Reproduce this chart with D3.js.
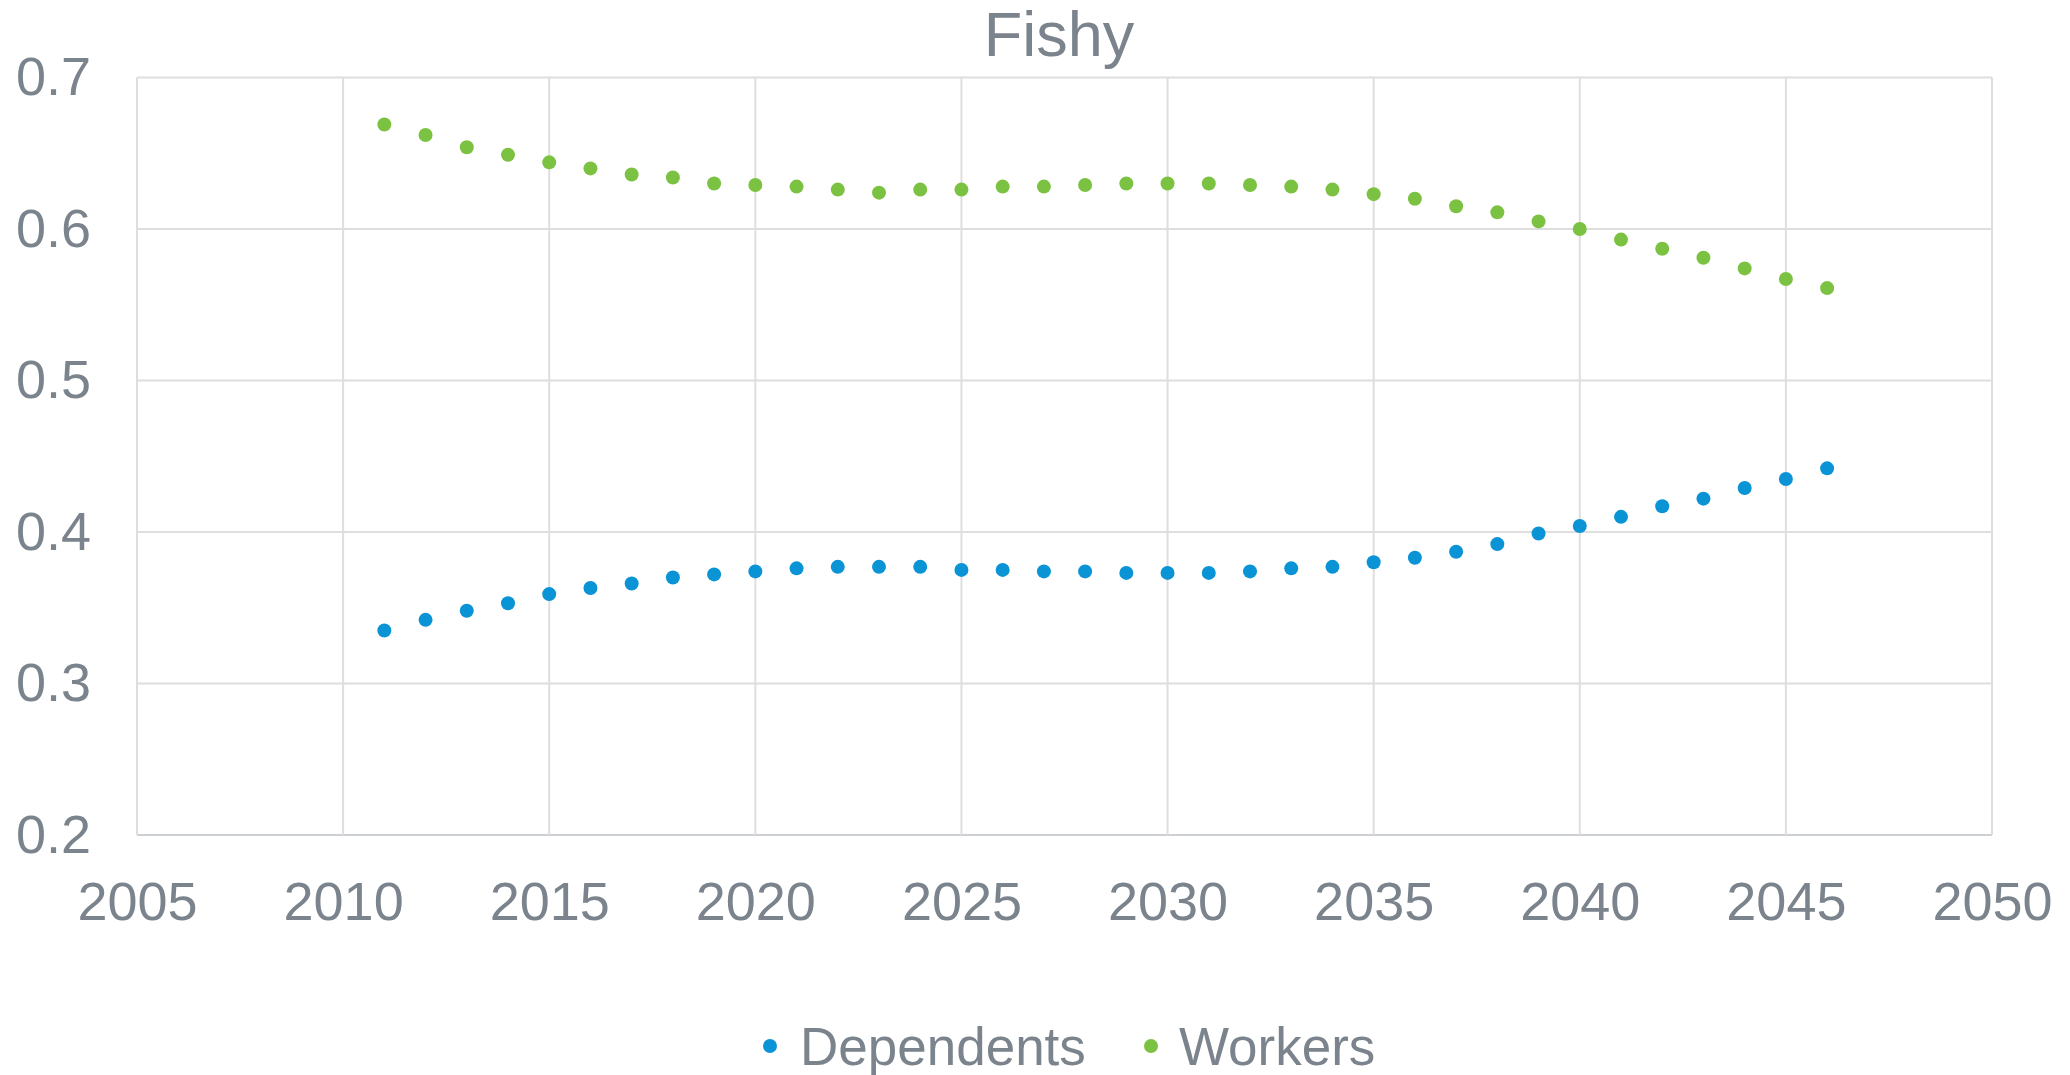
<!DOCTYPE html>
<html>
<head>
<meta charset="utf-8">
<script src="https://cdn.jsdelivr.net/npm/d3@7"></script>
<style>
  html, body { margin: 0; padding: 0; background: #fff; }
  svg { display: block; font-family: "Liberation Sans", Arial, sans-serif; }
</style>
</head>
<body>
<svg id="chart" width="2070" height="1075"></svg>
<script>
const years = d3.range(2011, 2047);
const dependents = [
  0.335, 0.342, 0.348, 0.353, 0.359, 0.363, 0.366, 0.370, 0.372, 0.374,
  0.376, 0.377, 0.377, 0.377, 0.375, 0.375, 0.374, 0.374, 0.373, 0.373,
  0.373, 0.374, 0.376, 0.377, 0.380, 0.383, 0.387, 0.392, 0.399, 0.404,
  0.410, 0.417, 0.422, 0.429, 0.435, 0.442
];
const workers = [
  0.669, 0.662, 0.654, 0.649, 0.644, 0.640, 0.636, 0.634, 0.630, 0.629,
  0.628, 0.626, 0.624, 0.626, 0.626, 0.628, 0.628, 0.629, 0.630, 0.630,
  0.630, 0.629, 0.628, 0.626, 0.623, 0.620, 0.615, 0.611, 0.605, 0.600,
  0.593, 0.587, 0.581, 0.574, 0.567, 0.561
];
const xTicks = d3.range(2005, 2051, 5);
const yTicks = [0.2, 0.3, 0.4, 0.5, 0.6, 0.7];
const seriesNames = ["Dependents", "Workers"];
const seriesColors = ["#0a94d6", "#7cc242"];

const W = 2070, H = 1075;
const margin = { top: 77.5, right: 78, bottom: 240, left: 137 };
const w = W - margin.left - margin.right;
const h = H - margin.top - margin.bottom;
const textColor = "#7b848d";

const svg = d3.select("#chart");
const x = d3.scaleLinear().domain([2005, 2050]).range([0, w]);
const y = d3.scaleLinear().domain([0.2, 0.7]).range([h, 0]);

svg.append("text")
  .attr("x", 1059).attr("y", 56)
  .attr("text-anchor", "middle")
  .style("font-size", "63px").style("fill", textColor)
  .text("Fishy");

const g = svg.append("g").attr("transform", `translate(${margin.left},${margin.top})`);

// grid
g.append("g").selectAll("line").data(yTicks).join("line")
  .attr("x1", 0).attr("x2", w)
  .attr("y1", d => y(d)).attr("y2", d => y(d))
  .attr("stroke", d => d === 0.2 ? "#ccd0d4" : "#dedede").attr("stroke-width", 2);
g.append("g").selectAll("line").data(xTicks).join("line")
  .attr("x1", d => x(d)).attr("x2", d => x(d))
  .attr("y1", 0).attr("y2", h)
  .attr("stroke", "#dedede").attr("stroke-width", 2);

// axes
const yAxis = g.append("g").call(d3.axisLeft(y).tickValues(yTicks).tickFormat(d3.format(".1f")).tickSize(0).tickPadding(46));
const xAxis = g.append("g").attr("transform", `translate(0,${h})`)
  .call(d3.axisBottom(x).tickValues(xTicks).tickFormat(d3.format("d")).tickSize(0).tickPadding(47));
[yAxis, xAxis].forEach(a => {
  a.select(".domain").remove();
  a.selectAll("text").style("font-size", "54px").style("fill", textColor).style("font-family", "Liberation Sans, Arial, sans-serif");
});

// points
[dependents, workers].forEach((vals, i) => {
  g.append("g").selectAll("circle").data(vals).join("circle")
    .attr("cx", (d, j) => x(years[j]))
    .attr("cy", d => y(d))
    .attr("r", 7)
    .attr("fill", seriesColors[i]);
});

// legend
const legendItems = [{ cx: 770, tx: 800 }, { cx: 1151, tx: 1179 }];
const legend = svg.append("g");
seriesNames.forEach((name, i) => {
  legend.append("circle").attr("cx", legendItems[i].cx).attr("cy", 1046).attr("r", 7).attr("fill", seriesColors[i]);
  legend.append("text").attr("x", legendItems[i].tx).attr("y", 1065)
    .style("font-size", "53px").style("fill", textColor).text(name);
});
</script>
</body>
</html>
